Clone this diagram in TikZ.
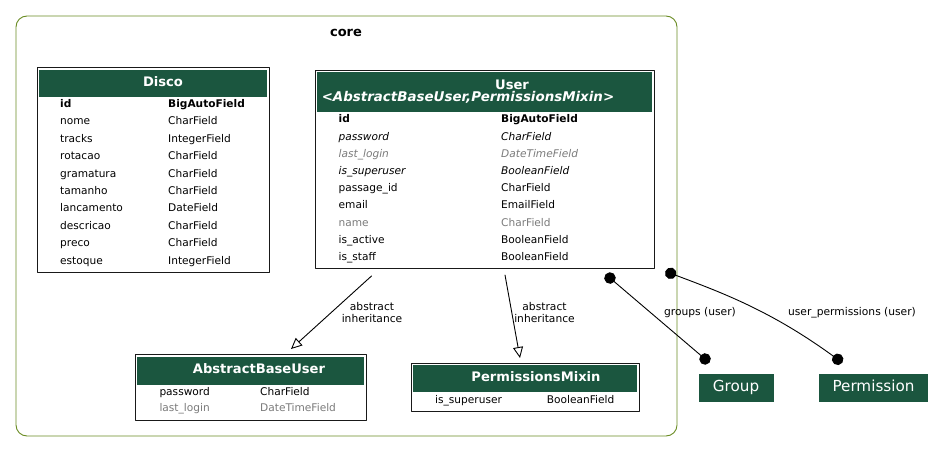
\documentclass[tikz,border=0pt]{standalone}
\usepackage{fontspec}
\setmainfont{DejaVu Sans}
\usepackage{xcolor}
\usetikzlibrary{arrows.meta}
\definecolor{djgreen}{HTML}{1B563F}
\definecolor{olivedrab}{HTML}{698B22}
\definecolor{muted}{HTML}{7B7B7B}
\tikzset{
    every picture/.style={line cap=round,line join=round},
    clusterbox/.style={draw=olivedrab,line width=0.9pt,rounded corners=11pt,
      anchor=north west,inner sep=0pt,outer sep=0pt},
    modelbox/.style={draw=black!90,fill=white,line width=1pt,
      anchor=north west,inner sep=0pt,outer sep=0pt},
    headcell/.style={fill=djgreen,anchor=north west,inner sep=0pt,outer sep=0pt},
    headtext/.style={text=white,font=\fontsize{13.1}{14}\selectfont\bfseries,
      anchor=base,inner sep=0pt},
    fieldtext/.style={font=\fontsize{10.6}{12}\selectfont,anchor=base west,inner sep=0pt},
    pkfield/.style={font=\fontsize{10.6}{12}\selectfont\bfseries},
    inhfield/.style={font=\fontsize{10.6}{12}\selectfont\itshape},
    mutedfield/.style={text=muted},
    inhmuted/.style={inhfield,mutedfield},
    plainfield/.style={},
    extmodel/.style={fill=djgreen,text=white,anchor=north west,inner sep=0pt,
      outer sep=0pt,text height=11pt,text depth=3.5pt,font=\fontsize{15.2}{16}\selectfont},
    inheritarrow/.style={-{Triangle[open,length=11pt,width=10pt]},line width=0.9pt},
    relline/.style={{Circle[length=11.5pt]}-{Circle[length=11.5pt]},line width=0.9pt},
    edgelabel/.style={font=\fontsize{10.7}{11.6}\selectfont,align=center,inner sep=0pt}
}

\begin{document}
\begin{tikzpicture}[x=1pt,y=-1pt]
  \useasboundingbox (0,0) rectangle (944,452);
  \node[clusterbox,minimum width=661pt,minimum height=420pt] (core) at (16,16) {};
  \node[font=\fontsize{13}{14}\selectfont\bfseries,anchor=base,inner sep=0pt] (core-label) at (346,37) {core};

  % Disco
  \node[modelbox,minimum width=232pt,minimum height=205pt] (disco) at (37,67) {};
  \node[headcell,minimum width=228pt,minimum height=27pt] (disco-head) at (39,70) {};
  \node[headtext] (disco-title) at (163,86) {Disco};
  \foreach \fname/\ftype/\fstyle [count=\i from 0] in {
      id/BigAutoField/pkfield,
      nome/CharField/plainfield,
      tracks/IntegerField/plainfield,
      rotacao/CharField/plainfield,
      gramatura/CharField/plainfield,
      tamanho/CharField/plainfield,
      lancamento/DateField/plainfield,
      descricao/CharField/plainfield,
      preco/CharField/plainfield,
      estoque/IntegerField/plainfield} {
    \node[fieldtext,\fstyle] (disco-n\i) at (60,{107.5+17.39*\i}) {\fname};
    \node[fieldtext,\fstyle] (disco-t\i) at (168,{107.5+17.39*\i}) {\ftype};
  }

  % User
  \node[modelbox,minimum width=339pt,minimum height=198pt] (user) at (315,70) {};
  \node[headcell,minimum width=335pt,minimum height=40pt] (user-head) at (317,72) {};
  \node[headtext] (user-title) at (512,89.5) {User};
  \node[headtext,font=\fontsize{13.4}{14}\selectfont\bfseries\itshape] (user-bases) at (468,101.5)
    {<AbstractBaseUser,PermissionsMixin>};
  \foreach \fname/\ftype/\fstyle [count=\i from 0] in {
      id/BigAutoField/pkfield,
      password/CharField/inhfield,
      last\_login/DateTimeField/inhmuted,
      is\_superuser/BooleanField/inhfield,
      passage\_id/CharField/plainfield,
      email/EmailField/plainfield,
      name/CharField/mutedfield,
      is\_active/BooleanField/plainfield,
      is\_staff/BooleanField/plainfield} {
    \node[fieldtext,\fstyle] (user-n\i) at (338.5,{122.8+17.2*\i}) {\fname};
    \node[fieldtext,\fstyle] (user-t\i) at (501,{122.8+17.2*\i}) {\ftype};
  }

  % AbstractBaseUser
  \node[modelbox,minimum width=231pt,minimum height=66.5pt] (abu) at (135,354) {};
  \node[headcell,minimum width=227pt,minimum height=28pt] (abu-head) at (137,357) {};
  \node[headtext] (abu-title) at (259,373) {AbstractBaseUser};
  \node[fieldtext] (abu-n0) at (159.3,395) {password};
  \node[fieldtext] (abu-t0) at (260,395) {CharField};
  \node[fieldtext,mutedfield] (abu-n1) at (159.3,411.7) {last\_login};
  \node[fieldtext,mutedfield] (abu-t1) at (260,411.7) {DateTimeField};

  % PermissionsMixin
  \node[modelbox,minimum width=228pt,minimum height=48.5pt] (pmixin) at (411,363) {};
  \node[headcell,minimum width=224pt,minimum height=27pt] (pmixin-head) at (413,365) {};
  \node[headtext] (pmixin-title) at (536,381.7) {PermissionsMixin};
  \node[fieldtext] (pmixin-n0) at (435,403.3) {is\_superuser};
  \node[fieldtext] (pmixin-t0) at (546.7,403.3) {BooleanField};

  % auth models outside the app
  \node[extmodel,minimum width=75pt,minimum height=28pt] (group) at (698.5,374) {Group};
  \node[extmodel,minimum width=109pt,minimum height=28pt] (perm) at (819,374) {Permission};

  \draw[inheritarrow] ([shift={(-113,8)}]user.south) -- ([shift={(40.5,-5)}]abu.north);
  \draw[inheritarrow] ([shift={(20.5,7)}]user.south) -- ([shift={(-5,-5)}]pmixin.north);
  \node[edgelabel] (lbl-abu) at (372,312.5) {abstract\\inheritance};
  \node[edgelabel] (lbl-pmixin) at (544.5,312.5) {abstract\\inheritance};

  \draw[relline] ([shift={(-48.4,6.3)}]user.south east) -- ([shift={(-26.6,-11.3)}]group.north);
  \draw[relline] ([shift={(11.3,3.3)}]user.south east) .. controls (720,292) and (770,310)
    .. ([shift={(-31.2,-11.3)}]perm.north);
  \node[edgelabel] (lbl-groups) at (700,312.7) {groups (user)};
  \node[edgelabel] (lbl-perms) at (852,312.7) {user\_permissions (user)};
\end{tikzpicture}
\end{document}
